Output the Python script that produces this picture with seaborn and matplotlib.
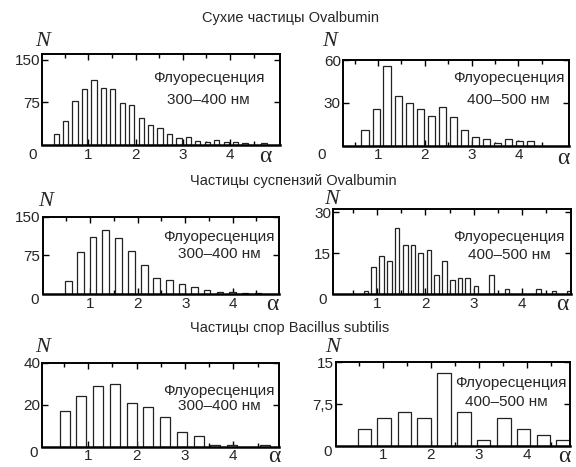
import matplotlib
matplotlib.use("Agg")
import matplotlib.pyplot as plt
import seaborn as sns
import pandas as pd

# ---------------- data ----------------
# Dry Ovalbumin particles
dry_uv_alpha = [0.32, 0.52, 0.72, 0.92, 1.12, 1.32, 1.52, 1.72, 1.92, 2.12, 2.32,
                2.52, 2.72, 2.92, 3.12, 3.32, 3.52, 3.72, 3.92, 4.12, 4.32, 4.72]
dry_uv_n = [19, 42, 78, 99, 115, 100, 99, 73, 70, 47, 35,
            30, 19, 12, 14, 7, 6, 8, 5, 5, 3, 3]
dry_vis_alpha = [0.72, 0.96, 1.19, 1.43, 1.67, 1.90, 2.14, 2.38, 2.61, 2.85,
                 3.08, 3.32, 3.56, 3.79, 4.03, 4.26]
dry_vis_n = [11, 26, 56, 35, 30, 26, 21, 27, 20, 11, 6, 5, 2, 5, 3, 3]

# Ovalbumin suspension particles
susp_uv_alpha = [0.54, 0.80, 1.06, 1.33, 1.60, 1.87, 2.14, 2.40, 2.67, 2.93,
                 3.20, 3.46, 3.73, 4.00, 4.26, 4.53]
susp_uv_n = [25, 81, 111, 124, 108, 84, 56, 31, 28, 19, 13, 7, 4, 4, 2, 1]
susp_vis_alpha = [0.76, 0.92, 1.09, 1.25, 1.41, 1.58, 1.74, 1.90, 2.07, 2.23,
                  2.39, 2.56, 2.72, 2.88, 3.05, 3.37, 3.70, 4.35, 4.68, 5.00]
susp_vis_n = [1, 10, 14, 12, 24, 18, 18, 15, 16, 7, 12, 5, 6, 6, 3, 7, 2, 2, 1, 1]

# Bacillus subtilis spores
spore_uv_alpha = [0.52, 0.86, 1.21, 1.55, 1.90, 2.24, 2.59, 2.93, 3.28, 3.62, 3.97, 4.66]
spore_uv_n = [17, 24, 29, 30, 21, 19, 14, 7, 5, 1, 1, 1]
spore_vis_alpha = [0.62, 1.03, 1.45, 1.86, 2.28, 2.69, 3.10, 3.52, 3.93, 4.35, 4.76]
spore_vis_n = [3, 5, 6, 5, 13, 6, 1, 5, 3, 2, 1]

titles = ["Сухие частицы Ovalbumin", "Частицы суспензий Ovalbumin",
          "Частицы спор Bacillus subtilis"]
fluo_word = "Флуоресценция"
band_uv = "300–400 нм"
band_vis = "400–500 нм"

y_ticks = [[75, 150], [30, 60], [75, 150], [15, 30], [20, 40], [7.5, 15]]
y_ticklabels = [["75", "150"], ["30", "60"], ["75", "150"], ["15", "30"],
                ["20", "40"], ["7,5", "15"]]
y_limits = [160, 60, 150, 31, 40, 15]
x_limits = [(0.02, 5.06), (0.25, 5.08), (0.0, 4.98), (0.08, 5.03),
            (0.05, 4.95), (0.02, 4.90)]

# ---------------- style ----------------
sns.set_style("white")
plt.rcParams["font.family"] = ["Liberation Sans", "DejaVu Sans"]
plt.rcParams["font.size"] = 11

W, H = 576, 467
fig = plt.figure(figsize=(W / 100, H / 100), dpi=100)


def fx(x):
    return x / W


def fy(y):
    return 1 - y / H


# panel boxes in pixels: left, top, right, bottom
boxes = [(42, 54, 280, 145), (343, 60, 569, 145.7),
         (42.7, 216.7, 279.3, 294), (333.3, 209.3, 571, 294),
         (42.3, 362.7, 279.3, 446.7), (335.7, 362.3, 570, 445.7)]
bar_widths = [0.55, 0.66, 0.55, 0.6, 0.61, 0.69]

panels = [(dry_uv_alpha, dry_uv_n), (dry_vis_alpha, dry_vis_n),
          (susp_uv_alpha, susp_uv_n), (susp_vis_alpha, susp_vis_n),
          (spore_uv_alpha, spore_uv_n), (spore_vis_alpha, spore_vis_n)]

for i, ((alpha, n), (l, t, r, b)) in enumerate(zip(panels, boxes)):
    ax = fig.add_axes([fx(l), fy(b), (r - l) / W, (b - t) / H])
    df = pd.DataFrame({"alpha": alpha, "N": n})
    sns.barplot(data=df, x="alpha", y="N", native_scale=True, orient="x",
                width=bar_widths[i], errorbar=None, facecolor="white",
                edgecolor="#222222", linewidth=0.9, ax=ax)
    ax.set_xlim(*x_limits[i])
    ax.set_ylim(0, y_limits[i])
    ax.set_xlabel("")
    ax.set_ylabel("")
    ax.set_xticks([1, 2, 3, 4])
    ax.set_xticklabels(["1", "2", "3", "4"])
    ax.set_xticks([0.5, 1.5, 2.5, 3.5, 4.5], minor=True)
    ax.set_yticks(y_ticks[i])
    ax.set_yticklabels(y_ticklabels[i])
    ax.tick_params(axis="both", which="both", direction="in", top=True,
                   right=True, bottom=True, left=True, color="black",
                   labelsize=11, width=1.0)
    ax.tick_params(axis="both", which="major", length=4)
    ax.tick_params(axis="x", which="minor", length=3)
    ax.tick_params(axis="x", which="major", pad=2)
    ax.tick_params(axis="y", which="major", pad=1.5)
    for s in ax.spines.values():
        s.set_color("black")
        s.set_linewidth(1.4)
    ax.spines["bottom"].set_linewidth(1.8)
    ax.set_facecolor("white")

# "0" labels, N and alpha labels (pixel positions)
zero_pos = [(33, 155), (322, 155), (35, 300), (323, 300), (34, 453), (328, 452)]
n_pos = [(43, 41), (330, 41), (46, 202), (332, 199), (43, 348), (333, 347)]
a_pos = [(265, 157), (563, 159), (272, 304), (562, 304), (274, 456), (564, 456)]
for (zx, zy), (nx, ny), (ax_, ay_) in zip(zero_pos, n_pos, a_pos):
    fig.text(fx(zx), fy(zy), "0", ha="center", va="center", fontsize=11)
    fig.text(fx(nx), fy(ny), "N", ha="center", va="center", fontsize=16,
             family=["Liberation Serif", "DejaVu Serif"], style="italic")
    fig.text(fx(ax_), fy(ay_), "α", ha="center", va="center", fontsize=17,
             family=["Liberation Serif", "DejaVu Serif"])

# fluorescence annotations
fluo_pos = [(209, 78, 208, 100), (509, 78, 508, 100), (219, 237, 219, 254),
            (509, 237, 509, 255), (219, 391, 219, 406), (511, 383, 506, 402)]
bands = [band_uv, band_vis, band_uv, band_vis, band_uv, band_vis]
for (x1, y1, x2, y2), band in zip(fluo_pos, bands):
    fig.text(fx(x1), fy(y1), fluo_word, ha="center", va="center", fontsize=11)
    fig.text(fx(x2), fy(y2), band, ha="center", va="center", fontsize=11)

# section titles
fig.text(fx(290), fy(18), titles[0], ha="center", va="center", fontsize=10.5)
fig.text(fx(190), fy(180.5), titles[1], ha="left", va="center", fontsize=10.5)
fig.text(fx(190), fy(328), titles[2], ha="left", va="center", fontsize=10.5)

fig.savefig("out.png", dpi=100, facecolor="white")
